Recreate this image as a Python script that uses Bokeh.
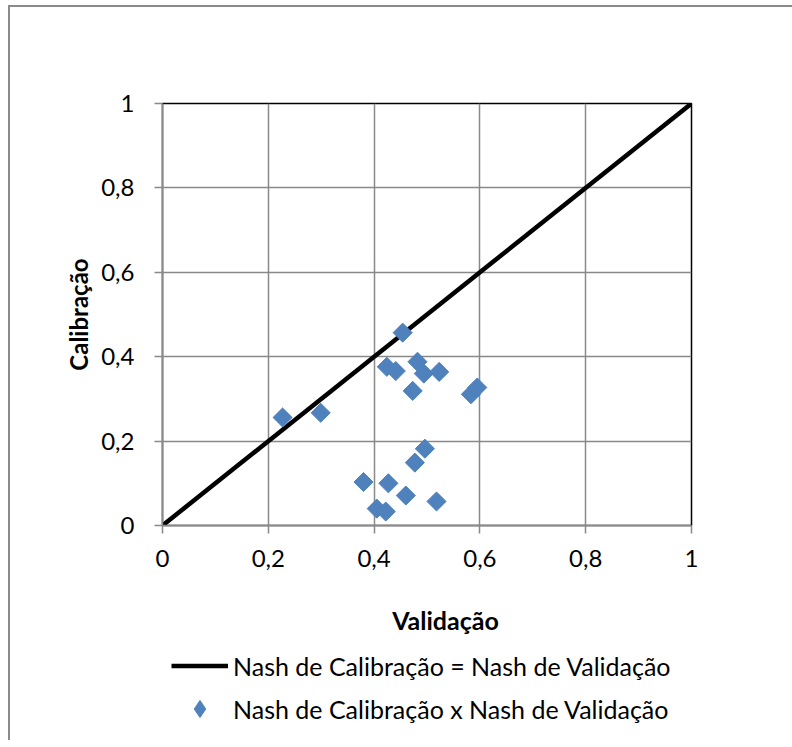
import math
from bokeh.plotting import figure
from bokeh.layouts import column
from bokeh.models import (Range1d, FixedTicker, CustomJSTickFormatter, Legend, LegendItem,
                          ColumnDataSource, Label)
from bokeh.embed import file_html
from bokeh.resources import INLINE

# Data
validacao = [0.227, 0.299, 0.454, 0.424, 0.441, 0.482, 0.494, 0.523, 0.473, 0.583,
             0.595, 0.496, 0.477, 0.380, 0.427, 0.460, 0.518, 0.405, 0.422]
calibracao = [0.256, 0.267, 0.457, 0.376, 0.366, 0.388, 0.360, 0.364, 0.319, 0.311,
              0.327, 0.182, 0.149, 0.103, 0.100, 0.071, 0.057, 0.040, 0.033]
line_x = [0, 1]
line_y = [0, 1]
ticks = [0, 0.2, 0.4, 0.6, 0.8, 1.0]
x_title = "Validação"
y_title = "Calibração"
labels = ["Nash de Calibração = Nash de Validação",
          "Nash de Calibração x Nash de Validação"]

FONT = "Lato"
BLUE = "#4F81BD"
GRAY = "#898989"
LEFT, RIGHT = 152, 101

p = figure(width=782, height=578, output_backend="svg", toolbar_location=None,
           x_range=Range1d(0, 1), y_range=Range1d(0, 1),
           min_border_left=LEFT, min_border_right=RIGHT, min_border_top=96, min_border_bottom=60)
p.background_fill_color = "white"
p.border_fill_color = "white"
p.outline_line_color = "black"
p.outline_line_width = 1.5

fmt = CustomJSTickFormatter(code="""
if (Math.abs(tick - Math.round(tick)) < 1e-9) return Math.round(tick).toString();
return tick.toFixed(1).replace('.', ',');
""")

for ax in (p.xaxis[0], p.yaxis[0]):
    ax.ticker = FixedTicker(ticks=ticks)
    ax.formatter = fmt
    ax.axis_line_color = GRAY
    ax.axis_line_width = 1.5
    ax.major_tick_line_color = GRAY
    ax.major_tick_line_width = 1.5
    ax.major_tick_out = 8
    ax.major_tick_in = 0
    ax.minor_tick_line_color = None
    ax.major_label_text_font = FONT
    ax.major_label_text_font_size = "24px"
    ax.major_label_text_color = "black"
    ax.axis_label_text_font = FONT
    ax.axis_label_text_font_size = "24px"
    ax.axis_label_text_font_style = "bold"
    ax.axis_label_text_color = "black"

p.yaxis.axis_label = y_title
p.xaxis.major_label_standoff = 16
p.yaxis.major_label_standoff = 20
p.yaxis.axis_label_standoff = 5

for g in (p.xgrid[0], p.ygrid[0]):
    g.ticker = FixedTicker(ticks=ticks)
    g.grid_line_color = GRAY
    g.grid_line_width = 1.5

p.line(line_x, line_y, line_color="black", line_width=4.5)
src = ColumnDataSource(dict(x=validacao, y=calibracao))
p.scatter("x", "y", source=src, marker="square", size=13.5, angle=math.pi / 4,
          fill_color=BLUE, line_color=BLUE)

# Lower panel: x-axis title and legend (legend renderers hidden, only keys show)
lg = figure(width=782, height=155, output_backend="svg", toolbar_location=None,
            x_range=Range1d(0, 1), y_range=Range1d(0, 1),
            min_border_left=LEFT, min_border_right=RIGHT, min_border_top=0, min_border_bottom=0)
lg.axis.visible = False
lg.grid.visible = False
lg.outline_line_color = None
lg.background_fill_color = "white"
lg.border_fill_color = "white"

lg.add_layout(Label(x=283, y=121, x_units="screen", y_units="screen", text=x_title,
                    text_align="center", text_baseline="middle", text_font=FONT,
                    text_font_size="25px", text_font_style="bold", text_color="black"))

key_line = lg.line(line_x, line_y, line_color="black", line_width=4.5, visible=False)
key_pt = lg.scatter("x", "y", source=src, marker="diamond", fill_color=BLUE,
                    line_color=BLUE, visible=False)

legend = Legend(items=[
    LegendItem(label=labels[0], renderers=[key_line]),
    LegendItem(label=labels[1], renderers=[key_pt]),
])
legend.orientation = "vertical"
legend.location = (9, 10)
legend.border_line_color = None
legend.background_fill_alpha = 0
legend.inactive_fill_alpha = 0
legend.label_text_font = FONT
legend.label_text_font_size = "25px"
legend.label_text_color = "black"
legend.glyph_width = 57
legend.glyph_height = 43
legend.label_standoff = 5
legend.spacing = 0
legend.padding = 4
legend.margin = 0
lg.add_layout(legend, "center")

layout = column(p, lg, spacing=0,
                styles={"border-top": "2px solid #8a8a8a", "border-left": "2px solid #8a8a8a",
                        "margin-left": "8px", "margin-top": "5px"})

open("out.html", "w").write(file_html(layout, INLINE))
